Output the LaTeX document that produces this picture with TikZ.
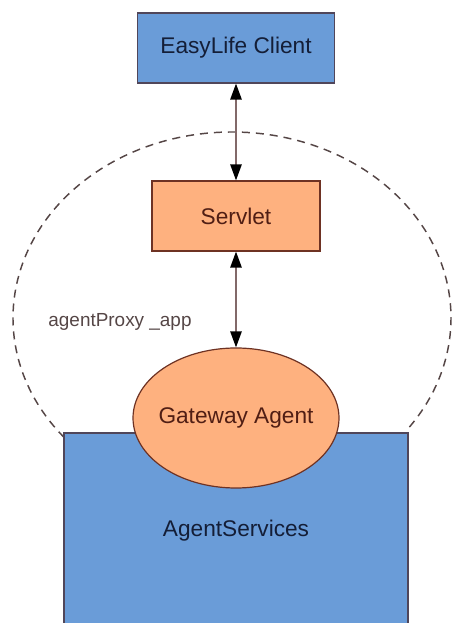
\documentclass[tikz,border=0pt]{standalone}
\usepackage{fontspec}
\setmainfont{Liberation Sans}
\usepackage{xcolor}
\usetikzlibrary{shapes.geometric,arrows.meta}

\definecolor{boxblue}{RGB}{106,156,216}
\definecolor{boxorange}{RGB}{254,177,127}
\definecolor{blueline}{RGB}{80,70,90}
\definecolor{orangeline}{RGB}{110,50,35}
\definecolor{bluetext}{RGB}{20,30,55}
\definecolor{orangetext}{RGB}{80,30,20}
\definecolor{linkgray}{RGB}{130,105,105}
\definecolor{proxyline}{RGB}{85,70,70}

\begin{document}
\begin{tikzpicture}[x=0.75pt, y=0.75pt, font=\fontsize{17}{20}\selectfont,
    bluebox/.style={rectangle, draw=blueline, fill=boxblue, text=bluetext, line width=0.9pt, inner sep=0pt},
    orangebox/.style={rectangle, draw=orangeline, fill=boxorange, text=orangetext, line width=0.9pt, inner sep=0pt},
    link/.style={draw=linkgray, line width=1.2pt, {Triangle[length=12pt,width=8.5pt,color=black]}-{Triangle[length=12pt,width=8.5pt,color=black]}}]

\useasboundingbox (0,0) rectangle (451,623);

% proxy boundary
\draw[proxyline, line width=1.1pt, dash pattern=on 6pt off 4.5pt] (232,305) ++(220:219 and 186) arc[start angle=220, end angle=-37, x radius=219, y radius=186];
\node[text=proxyline, font=\fontsize{14.2}{17}\selectfont] (proxy) at (120,301) {agentProxy \_app};

\node[bluebox, minimum width=147.75pt, minimum height=52.5pt] (client) at (236,575) {EasyLife Client};
\node[orangebox, minimum width=126pt, minimum height=52.5pt] (servlet) at (236,407) {Servlet};
\node[bluebox, minimum width=258pt, minimum height=147pt] (services) at (236,92) {AgentServices};
\node[orangebox, ellipse, inner xsep=-3.5pt, minimum height=105pt] (gateway) at (236,205) {Gateway Agent};

\draw[link] (client) -- (servlet);
\draw[link] (servlet) -- (gateway);
\end{tikzpicture}
\end{document}
